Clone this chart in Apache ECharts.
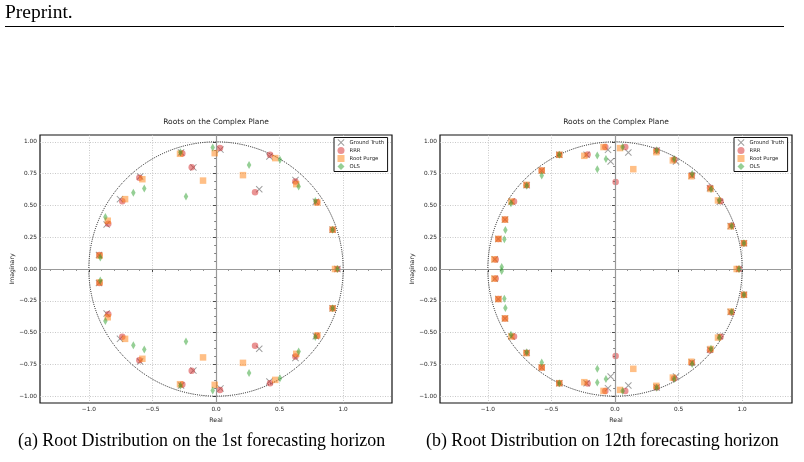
<!DOCTYPE html>
<html>
<head>
<meta charset="utf-8">
<script src="https://cdn.jsdelivr.net/npm/echarts@6.0.0/dist/echarts.min.js"></script>
<style>
html, body { margin: 0; padding: 0; background: #fff; }
#chart { width: 804px; height: 462px; }
</style>
</head>
<body>
<div id="chart"></div>
<script>
// roots as [real, imaginary]
// (a) 1st forecasting horizon
const groundTruthH1 = [
  [0.955, 0.0],
  [0.917, 0.310], [0.917, -0.310],
  [0.785, 0.530], [0.785, -0.530],
  [0.625, 0.700], [0.625, -0.700],
  [0.420, 0.886], [0.420, -0.886],
  [0.340, 0.628], [0.340, -0.628],
  [0.035, 0.940], [0.035, -0.940],
  [-0.178, 0.800], [-0.178, -0.800],
  [-0.275, 0.917], [-0.275, -0.917],
  [-0.597, 0.728], [-0.597, -0.728],
  [-0.755, 0.550], [-0.755, -0.550],
  [-0.860, 0.350], [-0.860, -0.350],
  [-0.920, 0.110], [-0.920, -0.110]
];
const rrrH1 = [
  [0.955, 0.0],
  [0.917, 0.310], [0.917, -0.310],
  [0.794, 0.526], [0.794, -0.526],
  [0.624, 0.688], [0.624, -0.688],
  [0.425, 0.899], [0.425, -0.899],
  [0.307, 0.605], [0.307, -0.605],
  [0.031, 0.952], [0.031, -0.952],
  [-0.191, 0.802], [-0.191, -0.802],
  [-0.265, 0.909], [-0.265, -0.909],
  [-0.603, 0.718], [-0.603, -0.718],
  [-0.737, 0.534], [-0.737, -0.534],
  [-0.847, 0.357], [-0.847, -0.357],
  [-0.917, 0.110], [-0.917, -0.110]
];
const rootPurgeH1 = [
  [0.936, 0.0],
  [0.917, 0.310], [0.917, -0.310],
  [0.797, 0.523], [0.797, -0.523],
  [0.631, 0.668], [0.631, -0.668],
  [0.466, 0.873], [0.466, -0.873],
  [0.212, 0.739], [0.212, -0.739],
  [-0.010, 0.912], [-0.010, -0.912],
  [-0.102, 0.696], [-0.102, -0.696],
  [-0.283, 0.907], [-0.283, -0.907],
  [-0.579, 0.707], [-0.579, -0.707],
  [-0.715, 0.550], [-0.715, -0.550],
  [-0.851, 0.380], [-0.851, -0.380],
  [-0.915, 0.105], [-0.915, -0.105]
];
const olsH1 = [
  [0.955, 0.0],
  [0.917, 0.310], [0.917, -0.310],
  [0.781, 0.536], [0.781, -0.536],
  [0.650, 0.649], [0.650, -0.649],
  [0.503, 0.860], [0.503, -0.860],
  [0.260, 0.818], [0.260, -0.818],
  [-0.026, 0.957], [-0.026, -0.957],
  [-0.236, 0.570], [-0.236, -0.570],
  [-0.280, 0.920], [-0.280, -0.920],
  [-0.564, 0.633], [-0.564, -0.633],
  [-0.650, 0.600], [-0.650, -0.600],
  [-0.870, 0.410], [-0.870, -0.410],
  [-0.910, 0.090], [-0.910, -0.090]
];

// (b) 12th forecasting horizon
const groundTruthH12 = [
  [0.975, 0.0],
  [1.014, 0.203], [1.014, -0.203],
  [0.910, 0.339], [0.910, -0.339],
  [0.825, 0.530], [0.825, -0.530],
  [0.747, 0.636], [0.747, -0.636],
  [0.605, 0.736], [0.605, -0.736],
  [0.480, 0.846], [0.480, -0.846],
  [0.328, 0.933], [0.328, -0.933],
  [0.105, 0.917], [0.105, -0.917],
  [-0.034, 0.846], [-0.034, -0.846],
  [-0.055, 0.938], [-0.055, -0.938],
  [-0.223, 0.899], [-0.223, -0.899],
  [-0.438, 0.899], [-0.438, -0.899],
  [-0.576, 0.775], [-0.576, -0.775],
  [-0.694, 0.660], [-0.694, -0.660],
  [-0.812, 0.531], [-0.812, -0.531],
  [-0.865, 0.389], [-0.865, -0.389],
  [-0.917, 0.237], [-0.917, -0.237],
  [-0.945, 0.076], [-0.945, -0.076]
];
const rrrH12 = [
  [0.975, 0.0],
  [1.014, 0.203], [1.014, -0.203],
  [0.917, 0.343], [0.917, -0.343],
  [0.830, 0.533], [0.830, -0.533],
  [0.747, 0.640], [0.747, -0.640],
  [0.605, 0.740], [0.605, -0.740],
  [0.465, 0.862], [0.465, -0.862],
  [0.328, 0.933], [0.328, -0.933],
  [0.081, 0.960], [0.081, -0.960],
  [0.005, 0.684], [0.005, -0.684],
  [-0.076, 0.960], [-0.076, -0.960],
  [-0.215, 0.902], [-0.215, -0.902],
  [-0.438, 0.899], [-0.438, -0.899],
  [-0.576, 0.775], [-0.576, -0.775],
  [-0.694, 0.660], [-0.694, -0.660],
  [-0.794, 0.531], [-0.794, -0.531],
  [-0.865, 0.389], [-0.865, -0.389],
  [-0.917, 0.237], [-0.917, -0.237],
  [-0.938, 0.074], [-0.938, -0.074]
];
const rootPurgeH12 = [
  [0.957, 0.0],
  [1.014, 0.203], [1.014, -0.203],
  [0.910, 0.335], [0.910, -0.335],
  [0.810, 0.540], [0.810, -0.540],
  [0.752, 0.630], [0.752, -0.630],
  [0.600, 0.730], [0.600, -0.730],
  [0.455, 0.855], [0.455, -0.855],
  [0.325, 0.920], [0.325, -0.920],
  [0.144, 0.786], [0.144, -0.786],
  [0.040, 0.952], [0.040, -0.952],
  [-0.090, 0.960], [-0.090, -0.960],
  [-0.241, 0.891], [-0.241, -0.891],
  [-0.438, 0.899], [-0.438, -0.899],
  [-0.576, 0.775], [-0.576, -0.775],
  [-0.697, 0.663], [-0.697, -0.663],
  [-0.815, 0.531], [-0.815, -0.531],
  [-0.865, 0.389], [-0.865, -0.389],
  [-0.917, 0.237], [-0.917, -0.237],
  [-0.949, 0.076], [-0.949, -0.076]
];
const olsH12 = [
  [0.975, 0.0],
  [1.014, 0.203], [1.014, -0.203],
  [0.917, 0.339], [0.917, -0.339],
  [0.820, 0.540], [0.820, -0.540],
  [0.755, 0.628], [0.755, -0.628],
  [0.607, 0.748], [0.607, -0.748],
  [0.465, 0.866], [0.465, -0.866],
  [0.328, 0.935], [0.328, -0.935],
  [0.060, 0.960], [0.060, -0.960],
  [-0.071, 0.867], [-0.071, -0.867],
  [-0.139, 0.786], [-0.139, -0.786],
  [-0.139, 0.894], [-0.139, -0.894],
  [-0.438, 0.899], [-0.438, -0.899],
  [-0.576, 0.736], [-0.576, -0.736],
  [-0.694, 0.655], [-0.694, -0.655],
  [-0.818, 0.518], [-0.818, -0.518],
  [-0.862, 0.307], [-0.862, -0.307],
  [-0.870, 0.234], [-0.870, -0.234],
  [-0.891, 0.015], [-0.891, -0.015]
];

const legendNames = ['Ground Truth', 'RRR', 'Root Purge', 'OLS'];
const xMajorTicks = [-1.0, -0.5, 0.0, 0.5, 1.0];
const xMinorTicks = [-1.3, -1.2, -1.1, -0.9, -0.8, -0.7, -0.6, -0.4, -0.3, -0.2, -0.1,
  0.1, 0.2, 0.3, 0.4, 0.6, 0.7, 0.8, 0.9, 1.1, 1.2, 1.3];
const yMajorTicks = [-1.0, -0.75, -0.5, -0.25, 0.0, 0.25, 0.5, 0.75, 1.0];
const yMinorTicks = [-0.9375, -0.875, -0.8125, -0.6875, -0.625, -0.5625, -0.4375, -0.375,
  -0.3125, -0.1875, -0.125, -0.0625, 0.0625, 0.125, 0.1875, 0.3125, 0.375, 0.4375,
  0.5625, 0.625, 0.6875, 0.8125, 0.875, 0.9375];

const SANS = '"DejaVu Sans", sans-serif';
const SERIF = '"Liberation Serif", "Times New Roman", serif';
const INK = '#222';

const fmtX = v => Math.abs(Math.round(v * 2) - v * 2) > 1e-6 ? '' : (v < 0 ? '\u2212' : '') + Math.abs(v).toFixed(1);
const fmtY = v => Math.abs(Math.round(v * 4) - v * 4) > 1e-6 ? '' : (v < 0 ? '\u2212' : '') + Math.abs(v).toFixed(2);

// two panels side by side
const panels = [
  { left: 40, xMin: -1.384, xMax: 1.384, data: [groundTruthH1, rrrH1, rootPurgeH1, olsH1] },
  { left: 440, xMin: -1.376, xMax: 1.392, data: [groundTruthH12, rrrH12, rootPurgeH12, olsH12] }
];
const gridW = 352, gridH = 268, gridTop = 135;
const yMin = -1.055, yMax = 1.055;

const markerStyles = [
  { symbol: 'path://M0,1L1,0L5,4L9,0L10,1L6,5L10,9L9,10L5,6L1,10L0,9L4,5Z', symbolSize: 7, color: '#7f7f7f', opacity: 0.75 },
  { symbol: 'circle', symbolSize: 6.5, color: '#d62728', opacity: 0.5 },
  { symbol: 'rect', symbolSize: 6.5, color: '#ff7f0e', opacity: 0.5 },
  { symbol: 'diamond', symbolSize: [4.5, 8], color: '#2ca02c', opacity: 0.5 }
];

const grids = [], xAxes = [], yAxes = [], series = [], legends = [], graphics = [];

panels.forEach((p, i) => {
  grids.push({
    left: p.left, top: gridTop, width: gridW, height: gridH,
    show: true, borderColor: '#111', borderWidth: 1.2, outerBoundsMode: 'none'
  });
  // major x axis
  xAxes.push({
    gridIndex: i, type: 'value', position: 'bottom', min: p.xMin, max: p.xMax,
    minInterval: 0.5, maxInterval: 0.5,
    name: 'Real', nameLocation: 'middle', nameGap: 10.5,
    nameTextStyle: { fontSize: 6.2, fontFamily: SANS, color: INK },
    axisLine: { show: false },
    axisTick: { show: true, length: 3, customValues: xMajorTicks, lineStyle: { color: INK, width: 0.8 } },
    axisLabel: { customValues: xMajorTicks, formatter: fmtX, fontSize: 5.8, fontFamily: SANS, color: INK, margin: 3 },
    splitLine: { show: true, lineStyle: { color: '#bbb', width: 0.8, type: [1, 1.5] } }
  });
  // minor x ticks
  xAxes.push({
    gridIndex: i, type: 'value', position: 'bottom', min: p.xMin, max: p.xMax,
    axisLine: { show: false }, axisLabel: { show: false }, splitLine: { show: false },
    axisTick: { show: true, length: 1.8, customValues: xMinorTicks, lineStyle: { color: INK, width: 0.6 } }
  });
  yAxes.push({
    gridIndex: i, type: 'value', position: 'left', min: yMin, max: yMax,
    minInterval: 0.25, maxInterval: 0.25,
    name: 'Imaginary', nameLocation: 'middle', nameGap: 22.5, nameRotate: 90,
    nameTextStyle: { fontSize: 6.2, fontFamily: SANS, color: INK },
    axisLine: { show: false },
    axisTick: { show: true, length: 3, customValues: yMajorTicks, lineStyle: { color: INK, width: 0.8 } },
    axisLabel: { customValues: yMajorTicks, formatter: fmtY, fontSize: 5.8, fontFamily: SANS, color: INK, margin: 3 },
    splitLine: { show: true, lineStyle: { color: '#bbb', width: 0.8, type: [1, 1.5] } }
  });
  yAxes.push({
    gridIndex: i, type: 'value', position: 'left', min: yMin, max: yMax,
    axisLine: { show: false }, axisLabel: { show: false }, splitLine: { show: false },
    axisTick: { show: true, length: 1.8, customValues: yMinorTicks, lineStyle: { color: INK, width: 0.6 } }
  });

  const xi = i * 2, yi = i * 2;

  // unit circle, sized from the axis scale
  series.push({
    type: 'custom', name: 'unit circle', xAxisIndex: xi, yAxisIndex: yi, silent: true, z: 1,
    data: [[0, 0]],
    renderItem: (params, api) => {
      const c = api.coord([0, 0]);
      const s = api.size([1, 1]);
      return {
        type: 'circle',
        shape: { cx: c[0], cy: c[1], r: s[0] },
        style: { fill: 'none', stroke: '#111', lineWidth: 1, lineDash: [1, 1.2] }
      };
    },
    // zero lines
    markLine: {
      silent: true, symbol: 'none', label: { show: false }, animation: false,
      lineStyle: { color: '#999', width: 1.2, type: 'solid' },
      data: [{ xAxis: 0 }, { yAxis: 0 }]
    }
  });

  p.data.forEach((d, k) => {
    const m = markerStyles[k];
    series.push({
      type: 'scatter', name: legendNames[k], xAxisIndex: xi, yAxisIndex: yi, z: 3 + k,
      symbol: m.symbol, symbolSize: m.symbolSize,
      itemStyle: { color: m.color, opacity: m.opacity },
      emphasis: { disabled: true },
      data: d
    });
  });

  legends.push({
    orient: 'vertical', left: p.left + 294, top: 137.5,
    itemWidth: 7, itemHeight: 7, itemGap: 1,
    padding: [1.5, 3.5, 1.5, 3.5],
    borderColor: '#111', borderWidth: 1, borderRadius: 0, backgroundColor: '#fff',
    selectedMode: false,
    textStyle: { fontSize: 5.3, fontFamily: SANS, color: INK },
    data: legendNames
  });

  graphics.push({
    type: 'text', x: p.left + gridW / 2, y: 122,
    style: {
      text: 'Roots on the Complex Plane', font: '7.5px ' + SANS, fill: INK,
      textAlign: 'center', textVerticalAlign: 'middle', align: 'center', verticalAlign: 'middle'
    }
  });
});

// page header and captions
graphics.push(
  {
    type: 'text', x: 5, y: 12.5,
    style: { text: 'Preprint.', font: '19.5px ' + SERIF, fill: '#000', textVerticalAlign: 'middle', verticalAlign: 'middle' }
  },
  { type: 'line', shape: { x1: 5, y1: 26.5, x2: 784, y2: 26.5 }, style: { stroke: '#000', lineWidth: 1 } },
  {
    type: 'text', x: 18, y: 441,
    style: { text: '(a) Root Distribution on the 1st forecasting horizon', font: '17.9px ' + SERIF, fill: '#000', textVerticalAlign: 'middle', verticalAlign: 'middle' }
  },
  {
    type: 'text', x: 426, y: 441,
    style: { text: '(b) Root Distribution on 12th forecasting horizon', font: '17.9px ' + SERIF, fill: '#000', textVerticalAlign: 'middle', verticalAlign: 'middle' }
  }
);

const myChart = echarts.init(document.getElementById('chart'));
myChart.setOption({
  animation: false,
  backgroundColor: '#fff',
  grid: grids,
  xAxis: xAxes,
  yAxis: yAxes,
  legend: legends,
  series: series,
  graphic: graphics
});
</script>
</body>
</html>
